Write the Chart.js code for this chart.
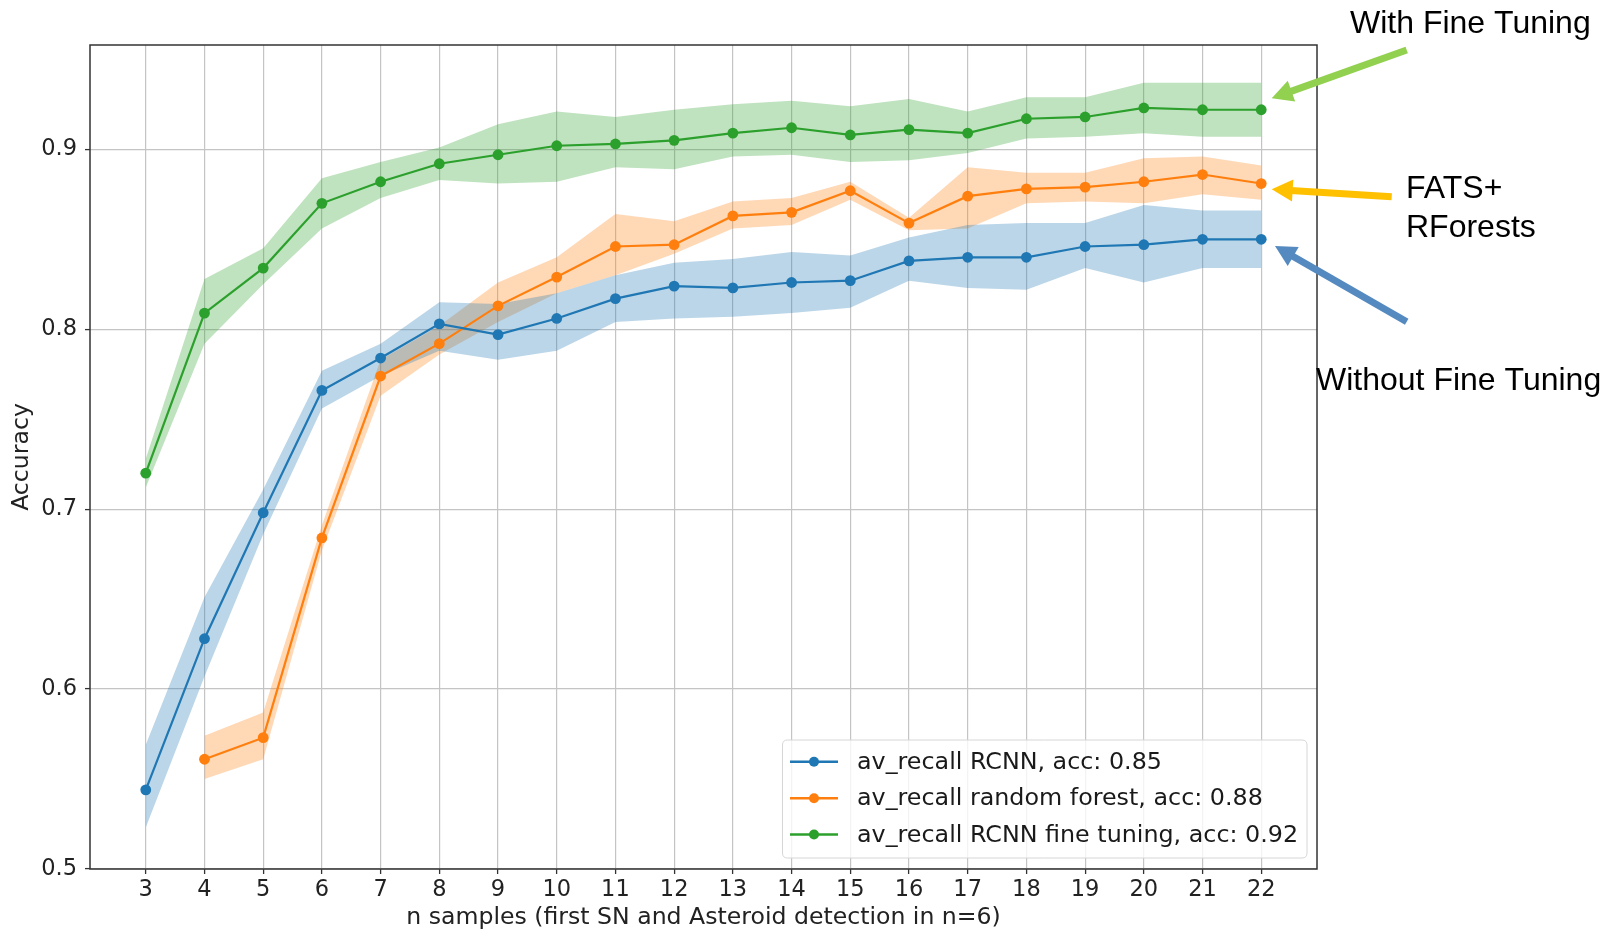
<!DOCTYPE html>
<html><head><meta charset="utf-8">
<script src="https://cdn.jsdelivr.net/npm/chart.js@4.4.1/dist/chart.umd.min.js"></script>
<style>html,body{margin:0;padding:0;background:#fff;}#wrap{position:relative;width:1606px;height:931px;}</style>
</head><body><div id="wrap"><canvas id="c" width="1606" height="931"></canvas></div>
<script>
// ---- data ----
const nSamples = [3,4,5,6,7,8,9,10,11,12,13,14,15,16,17,18,19,20,21,22];
const xTickValues = [3,4,5,6,7,8,9,10,11,12,13,14,15,16,17,18,19,20,21,22];
const yTickValues = [0.5,0.6,0.7,0.8,0.9];

const rcnnMean = [0.544,0.628,0.698,0.766,0.784,0.803,0.797,0.806,0.817,0.824,0.823,0.826,0.827,0.838,0.840,0.840,0.846,0.847,0.850,0.850];
const rcnnLow  = [0.523,0.607,0.686,0.756,0.774,0.788,0.783,0.788,0.804,0.806,0.807,0.809,0.812,0.827,0.823,0.822,0.834,0.826,0.834,0.834];
const rcnnHigh = [0.569,0.651,0.711,0.777,0.792,0.815,0.814,0.820,0.830,0.837,0.839,0.843,0.841,0.851,0.858,0.859,0.859,0.869,0.866,0.866];

const rfMean = [null,0.561,0.573,0.684,0.774,0.792,0.813,0.829,0.846,0.847,0.863,0.865,0.877,0.859,0.874,0.878,0.879,0.882,0.886,0.881];
const rfLow  = [null,0.550,0.561,0.677,0.763,0.786,0.804,0.820,0.830,0.842,0.856,0.858,0.872,0.855,0.856,0.870,0.871,0.870,0.875,0.872];
const rfHigh = [null,0.574,0.587,0.691,0.783,0.802,0.826,0.840,0.864,0.860,0.871,0.873,0.882,0.862,0.890,0.887,0.887,0.895,0.896,0.891];

const ftMean = [0.720,0.809,0.834,0.870,0.882,0.892,0.897,0.902,0.903,0.905,0.909,0.912,0.908,0.911,0.909,0.917,0.918,0.923,0.922,0.922];
const ftLow  = [0.712,0.792,0.825,0.856,0.873,0.883,0.881,0.882,0.890,0.889,0.896,0.897,0.893,0.894,0.898,0.906,0.907,0.909,0.907,0.907];
const ftHigh = [0.728,0.828,0.845,0.884,0.893,0.901,0.914,0.921,0.918,0.922,0.925,0.927,0.924,0.928,0.921,0.929,0.929,0.937,0.937,0.937];

const seriesLabels = ['av_recall RCNN, acc: 0.85','av_recall random forest, acc: 0.88','av_recall RCNN fine tuning, acc: 0.92'];
const seriesColors = ['#1f77b4','#ff7f0e','#2ca02c'];
const bandColors = ['rgba(31,119,180,0.3)','rgba(255,127,14,0.3)','rgba(44,160,44,0.3)'];

const xTitle = 'n samples (first SN and Asteroid detection in n=6)';
const yTitle = 'Accuracy';

// ---- build ----
const pts = arr => nSamples.map((x,i)=>({x:x, y:arr[i]}));
const bandPair = (lo, hi, k) => [
  {data:pts(lo), borderColor:'transparent', borderWidth:0, pointRadius:0, fill:false, order:5, backgroundColor:bandColors[k]},
  {data:pts(hi), borderColor:'transparent', borderWidth:0, pointRadius:0, fill:'-1', order:5, backgroundColor:bandColors[k]}
];
const lineDs = (arr,k) => ({data:pts(arr), borderColor:seriesColors[k], backgroundColor:seriesColors[k],
  borderWidth:2.2, pointRadius:5.4, pointBorderWidth:0, pointBackgroundColor:seriesColors[k], fill:false, order:0});

const datasets = [
  ...bandPair(rcnnLow, rcnnHigh, 0),
  ...bandPair(rfLow, rfHigh, 1),
  ...bandPair(ftLow, ftHigh, 2),
  lineDs(rcnnMean,0), lineDs(rfMean,1), lineDs(ftMean,2)
];

const FONT = 'DejaVu Sans';

function drawArrow(ctx, x1,y1,x2,y2,color,w,hl,hw){
  const a=Math.atan2(y2-y1,x2-x1), c=Math.cos(a), s=Math.sin(a);
  const bx=x2-hl*c, by=y2-hl*s;
  ctx.save();
  ctx.strokeStyle=color; ctx.lineWidth=w; ctx.lineCap='butt';
  ctx.beginPath(); ctx.moveTo(x1,y1); ctx.lineTo(bx+2*c,by+2*s); ctx.stroke();
  ctx.fillStyle=color; ctx.beginPath(); ctx.moveTo(x2,y2);
  ctx.lineTo(bx+hw*s, by-hw*c); ctx.lineTo(bx-hw*s, by+hw*c); ctx.closePath(); ctx.fill();
  ctx.restore();
}

const decor = {
  id:'decor',
  afterDraw(chart){
    const ctx=chart.ctx, ca=chart.chartArea;
    // frame (spines)
    ctx.save();
    ctx.strokeStyle='#333'; ctx.lineWidth=1.5;
    ctx.strokeRect(ca.left, ca.top, ca.right-ca.left, ca.bottom-ca.top);
    // legend
    const L=782.5, T=740, R=ca.right-10, B=ca.bottom-11, r=5;
    ctx.beginPath();
    ctx.moveTo(L+r,T); ctx.lineTo(R-r,T); ctx.quadraticCurveTo(R,T,R,T+r);
    ctx.lineTo(R,B-r); ctx.quadraticCurveTo(R,B,R-r,B); ctx.lineTo(L+r,B);
    ctx.quadraticCurveTo(L,B,L,B-r); ctx.lineTo(L,T+r); ctx.quadraticCurveTo(L,T,L+r,T); ctx.closePath();
    ctx.fillStyle='rgba(255,255,255,0.8)'; ctx.fill();
    ctx.strokeStyle='#d6d6d6'; ctx.lineWidth=1; ctx.stroke();
    const rows=[761.7,798.3,834.5];
    ctx.font='23.8px "'+FONT+'"'; ctx.textBaseline='middle'; ctx.textAlign='left';
    for(let k=0;k<3;k++){
      const y=rows[k];
      ctx.strokeStyle=seriesColors[k]; ctx.lineWidth=2.6;
      ctx.beginPath(); ctx.moveTo(790,y); ctx.lineTo(838,y); ctx.stroke();
      ctx.fillStyle=seriesColors[k]; ctx.beginPath(); ctx.arc(814,y,5,0,Math.PI*2); ctx.fill();
      ctx.fillStyle='#1a1a1a'; ctx.fillText(seriesLabels[k], 857, y+1);
    }
    ctx.restore();
    // annotations
    drawArrow(ctx,1406.7,50,1271.7,98.3,'#92d050',7,21,11);
    drawArrow(ctx,1391.7,196.7,1271.7,189.3,'#ffc000',7,21,11);
    drawArrow(ctx,1406.7,321.7,1275,246,'#558ac0',7,21,11);
    ctx.save();
    ctx.fillStyle='#000'; ctx.font='32px "Liberation Sans", Arial, sans-serif';
    ctx.textBaseline='alphabetic'; ctx.textAlign='left';
    ctx.fillText('With Fine Tuning',1350,33);
    ctx.fillText('FATS+',1406,198);
    ctx.fillText('RForests',1406,237);
    ctx.fillText('Without Fine Tuning',1316,390);
    ctx.restore();
  }
};

new Chart(document.getElementById('c'), {
  type:'line',
  data:{datasets},
  plugins:[decor],
  options:{
    responsive:false, animation:false, devicePixelRatio:1,
    layout:{padding:{top:45,right:289,left:0,bottom:0}},
    elements:{line:{tension:0}},
    plugins:{legend:{display:false}, tooltip:{enabled:false}},
    scales:{
      x:{type:'linear', min:2.05, max:22.95,
        afterBuildTicks: s=>{ s.ticks = xTickValues.map(v=>({value:v})); },
        afterFit: s=>{ s.height=62; },
        grid:{color:'#c4c4c4', lineWidth:1.2, drawTicks:true, tickLength:5, tickColor:'#333', tickWidth:1.3},
        border:{display:false},
        ticks:{font:{family:FONT,size:22.5}, color:'#222', padding:3, maxRotation:0, autoSkip:false, callback:v=>String(v)},
        title:{display:true, text:xTitle, font:{family:FONT,size:23.6}, color:'#222', padding:{top:0,bottom:-1}}
      },
      y:{type:'linear', min:0.5, max:0.958,
        afterBuildTicks: s=>{ s.ticks = yTickValues.map(v=>({value:v})); },
        afterFit: s=>{ s.width=90; },
        grid:{color:'#c4c4c4', lineWidth:1.2, drawTicks:true, tickLength:5, tickColor:'#333', tickWidth:1.3},
        border:{display:false},
        ticks:{font:{family:FONT,size:22.5}, color:'#222', padding:8, callback:v=>Number(v).toFixed(1)},
        title:{display:true, text:yTitle, font:{family:FONT,size:23.6}, color:'#222', padding:{top:8,bottom:0}}
      }
    }
  }
});
</script>
</body></html>
